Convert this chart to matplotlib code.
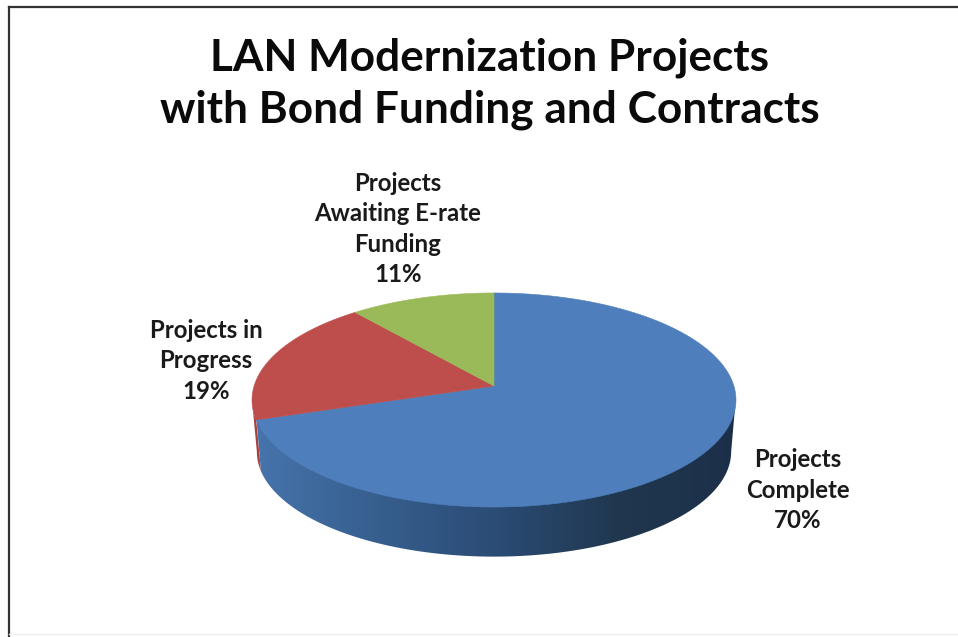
import numpy as np
import matplotlib
matplotlib.use("Agg")
import matplotlib.pyplot as plt
from matplotlib.path import Path
from matplotlib.patches import Polygon
from matplotlib.colors import LinearSegmentedColormap

title = "LAN Modernization Projects\nwith Bond Funding and Contracts"
categories = ["Projects\nComplete", "Projects in\nProgress", "Projects\nAwaiting E-rate\nFunding"]
values = [70, 19, 11]
colors = ["#4e7ebb", "#bd4e4b", "#9aba59"]

W, H = 958, 637
plt.rcParams["font.family"] = ["Lato", "DejaVu Sans"]
fig = plt.figure(figsize=(W / 100, H / 100), dpi=100, facecolor="white")
ax = fig.add_axes([0, 0, 1, 1])

CX, CY = 494.0, 386.0   # apex of the pie
A, B, K = 105.2, 239.9, 0.1309  # perspective of the disc
DEPTH_SCALE, CY2 = 0.98, 438.0


def rim(theta, cy=CY, s=1.0):
    """Clockwise angle from 12 o'clock (degrees) -> perspective pixel position."""
    t = np.radians(theta)
    d = 1 + K * np.cos(t)
    return CX + s * B * np.sin(t) / d, cy - s * A * np.cos(t) / d


wedges, _ = ax.pie(values, colors=colors, startangle=90, counterclock=False,
                   center=(CX, CY), radius=B)
ends = np.cumsum(values) / np.sum(values) * 360
starts = ends - np.array(values) / np.sum(values) * 360
for w, a0, a1, c in zip(wedges, starts, ends, colors):
    th = np.linspace(a0, a1, 200)
    x, y = rim(th)
    verts = np.vstack([[CX, CY], np.column_stack([x, y]), [CX, CY]])
    w._path = Path(verts, closed=True)
    w.set_zorder(5)
    w.set_edgecolor(c)
    w.set_linewidth(0.4)

# side wall of the disc
left_end = np.degrees(np.arccos(-K))
wall_th = np.linspace(left_end, ends[0], 200)
xt, yt = rim(wall_th)
xb, yb = rim(wall_th, CY2, DEPTH_SCALE)
wall = np.vstack([np.column_stack([xt, yt - 3]), np.column_stack([xb, yb])[::-1]])
cmap = LinearSegmentedColormap.from_list("wall", [
    (0.0, "#1c2f49"), (0.25, "#20374f"), (0.5, "#2b4c75"),
    (0.75, "#375f8f"), (1.0, "#4775ad")])
grad = np.linspace(0, 1, 256).reshape(1, -1)
im = ax.imshow(grad[:, ::-1], extent=(250, 740, 570, 380), cmap=cmap, aspect="auto", zorder=3,
               interpolation="bilinear")
clip = Polygon(wall, closed=True, transform=ax.transData, facecolor="none", edgecolor="none")
ax.add_patch(clip)
im.set_clip_path(clip)
# red wall sliver
red_th = np.linspace(ends[0], 360 - left_end, 40)
xt, yt = rim(red_th)
xb, yb = rim(red_th, CY2, DEPTH_SCALE)
ax.add_patch(Polygon(np.vstack([np.column_stack([xt, yt]), np.column_stack([xb, yb])[::-1]]),
                     closed=True, facecolor="#a8403e", edgecolor="none", zorder=2))

# labels
label_pos = [(798, 490), (206, 361), (398, 229)]
for name, v, (lx, ly) in zip(categories, values, label_pos):
    ax.text(lx, ly, f"{name}\n{v}%", ha="center", va="center", fontsize=17.3,
            fontweight="bold", color="#1a1a1a", linespacing=1.37, zorder=6)

ax.text(490, 84, title, ha="center", va="center", fontsize=31.8, fontweight="bold",
        color="#0a0a0a", linespacing=1.35, zorder=6)

# frame of the original picture
ax.plot([9, 9], [7, 637], color="#333333", lw=1.6, zorder=7)
ax.plot([9, 958], [7, 7], color="#333333", lw=1.6, zorder=7)
ax.plot([9, 958], [634, 634], color="#efefef", lw=1, zorder=7)

ax.set_aspect("auto")
ax.set_xlim(0, W)
ax.set_ylim(H, 0)
ax.axis("off")
fig.savefig("out.png", dpi=100, facecolor="white")
